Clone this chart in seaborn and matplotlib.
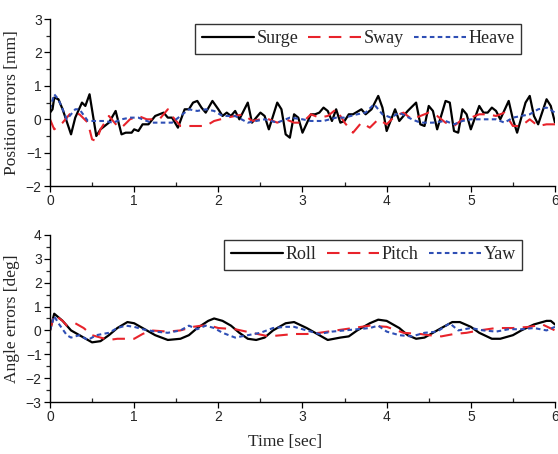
import numpy as np
import pandas as pd
import matplotlib
matplotlib.use("Agg")
import matplotlib.pyplot as plt
import seaborn as sns
from matplotlib.ticker import MultipleLocator

# ---------------- data ----------------
surge_t = [0, 0.03, 0.05, 0.1, 0.15, 0.25, 0.3, 0.38, 0.42, 0.47, 0.55, 0.6, 0.7, 0.78, 0.85, 0.9, 0.97,
           1.0, 1.05, 1.1, 1.17, 1.25, 1.35, 1.4, 1.45, 1.52, 1.6, 1.65, 1.7, 1.75, 1.8, 1.85, 1.93,
           2.0, 2.05, 2.1, 2.15, 2.2, 2.25, 2.35, 2.4, 2.5, 2.55, 2.6, 2.7, 2.75, 2.8, 2.85, 2.9, 2.95,
           3.0, 3.1, 3.15, 3.2, 3.25, 3.3, 3.35, 3.4, 3.45, 3.5, 3.55, 3.6, 3.7, 3.75, 3.82, 3.9, 3.95,
           4.0, 4.1, 4.15, 4.25, 4.35, 4.4, 4.45, 4.5, 4.55, 4.6, 4.7, 4.75, 4.8, 4.85, 4.9, 4.95,
           5.0, 5.1, 5.15, 5.2, 5.25, 5.3, 5.35, 5.45, 5.5, 5.55, 5.65, 5.7, 5.75, 5.8, 5.9, 5.95, 6.0]
surge_v = [0.2, 0.3, 0.65, 0.6, 0.3, -0.45, 0.05, 0.5, 0.4, 0.75, -0.5, -0.3, -0.1, 0.25, -0.45, -0.4, -0.4,
           -0.3, -0.35, -0.15, -0.15, 0.1, 0.2, 0.05, 0.05, -0.25, 0.3, 0.3, 0.5, 0.55, 0.35, 0.2, 0.55,
           0.3, 0.1, 0.2, 0.1, 0.25, 0.0, 0.5, -0.1, 0.2, 0.1, -0.3, 0.5, 0.3, -0.45, -0.55, 0.15, 0.05,
           -0.4, 0.15, 0.15, 0.2, 0.35, 0.25, -0.05, 0.3, -0.1, -0.05, 0.15, 0.15, 0.3, 0.15, 0.3, 0.7, 0.35,
           -0.35, 0.3, -0.05, 0.25, 0.5, -0.15, -0.2, 0.4, 0.25, -0.3, 0.55, 0.5, -0.35, -0.4, 0.3, 0.15,
           -0.3, 0.4, 0.2, 0.2, 0.35, 0.25, 0.0, 0.55, 0.0, -0.4, 0.5, 0.7, 0.1, -0.15, 0.6, 0.4, -0.1]

sway_t = [0, 0.05, 0.15, 0.25, 0.35, 0.45, 0.5, 0.55, 0.6, 0.7, 0.8, 0.85, 0.95, 1.05, 1.15, 1.3, 1.4, 1.45,
          1.55, 1.7, 1.85, 1.95, 2.1, 2.3, 2.4, 2.5, 2.6, 2.7, 2.8, 2.9, 3.0, 3.1, 3.2, 3.3, 3.4, 3.5, 3.6,
          3.7, 3.8, 3.9, 4.0, 4.1, 4.2, 4.3, 4.4, 4.5, 4.6, 4.7, 4.8, 4.9, 5.0, 5.1, 5.2, 5.3, 5.4, 5.5,
          5.6, 5.7, 5.8, 5.9, 6.0]
sway_v = [0.0, -0.3, -0.1, 0.2, 0.15, -0.1, -0.6, -0.65, -0.3, 0.1, -0.2, -0.25, 0.0, 0.1, 0.0, 0.0, 0.3, 0.1,
          -0.2, -0.2, -0.2, -0.05, 0.05, 0.15, -0.05, 0.0, 0.0, -0.1, 0.0, -0.1, -0.1, 0.15, 0.05, 0.1, 0.3, -0.1, -0.4,
          -0.1, -0.25, 0.0, -0.15, 0.1, 0.2, 0.0, 0.1, 0.2, 0.1, -0.1, -0.2, 0.0, 0.05, 0.15, 0.15, 0.1, 0.2, -0.2,
          -0.2, 0.0, -0.2, -0.15, -0.15]

heave_t = [0, 0.05, 0.1, 0.2, 0.3, 0.35, 0.45, 0.55, 0.65, 0.75, 0.85, 0.95, 1.05, 1.1, 1.2, 1.3, 1.45, 1.55,
           1.65, 1.75, 1.85, 1.95, 2.05, 2.2, 2.35, 2.45, 2.55, 2.7, 2.85, 3.0, 3.1, 3.25, 3.4, 3.5, 3.65, 3.75,
           3.85, 3.95, 4.05, 4.15, 4.3, 4.4, 4.55, 4.7, 4.8, 4.9, 5.0, 5.1, 5.2, 5.3, 5.4, 5.5, 5.6, 5.7, 5.8,
           5.9, 6.0]
heave_v = [0.3, 0.75, 0.6, 0.0, 0.3, 0.3, -0.05, -0.05, -0.05, -0.1, 0.0, 0.05, 0.05, 0.0, -0.1, -0.1, -0.1, 0.1,
           0.3, 0.25, 0.3, 0.25, 0.1, 0.1, -0.1, -0.05, 0.0, -0.1, 0.05, 0.0, -0.05, -0.05, 0.05, 0.05, 0.15, 0.2,
           0.45, 0.15, 0.05, 0.2, 0.0, -0.1, -0.1, -0.05, -0.15, -0.05, 0.0, 0.0, 0.0, 0.0, -0.1, 0.05, 0.1, 0.15, 0.3,
           0.35, 0.2]

roll_t = [0, 0.05, 0.15, 0.25, 0.4, 0.5, 0.6, 0.7, 0.8, 0.92, 1.0, 1.1, 1.25, 1.4, 1.55, 1.65, 1.75, 1.88, 1.95,
          2.05, 2.15, 2.25, 2.35, 2.45, 2.55, 2.65, 2.8, 2.9, 3.05, 3.2, 3.3, 3.45, 3.55, 3.65, 3.8, 3.9, 4.0,
          4.15, 4.25, 4.35, 4.45, 4.55, 4.65, 4.78, 4.87, 5.0, 5.1, 5.25, 5.35, 5.5, 5.6, 5.75, 5.9, 5.95, 6.0]
roll_v = [0.0, 0.7, 0.4, 0.0, -0.3, -0.5, -0.45, -0.2, 0.1, 0.35, 0.3, 0.1, -0.2, -0.4, -0.35, -0.2, 0.1, 0.4, 0.5,
          0.4, 0.2, -0.1, -0.35, -0.4, -0.3, 0.0, 0.3, 0.35, 0.1, -0.2, -0.4, -0.3, -0.25, 0.0, 0.3, 0.45, 0.4,
          0.1, -0.2, -0.35, -0.3, -0.1, 0.1, 0.35, 0.35, 0.15, -0.1, -0.35, -0.35, -0.2, 0.0, 0.25, 0.4, 0.4, 0.25]

pitch_t = [0, 0.05, 0.15, 0.2, 0.3, 0.4, 0.5, 0.6, 0.7, 0.8, 0.9, 1.0, 1.1, 1.2, 1.4, 1.55, 1.7, 1.8, 1.9, 2.0,
           2.2, 2.4, 2.6, 2.75, 2.9, 3.05, 3.2, 3.4, 3.6, 3.8, 4.0, 4.2, 4.4, 4.5, 4.65, 4.8, 4.95, 5.1, 5.3,
           5.5, 5.7, 5.85, 6.0]
pitch_v = [0.0, 0.65, 0.4, 0.2, 0.3, 0.1, -0.2, -0.3, -0.4, -0.35, -0.35, -0.35, -0.15, 0.0, -0.05, 0.0, 0.15, 0.2,
           0.2, 0.1, 0.05, -0.1, -0.25, -0.2, -0.15, -0.15, -0.1, 0.0, 0.1, 0.2, 0.15, -0.1, -0.15, -0.2, -0.25, -0.15,
           -0.1, 0.0, 0.1, 0.1, 0.15, 0.25, 0.0]

yaw_t = [0, 0.05, 0.1, 0.2, 0.25, 0.35, 0.45, 0.55, 0.7, 0.8, 0.9, 1.0, 1.1, 1.25, 1.4, 1.55, 1.65, 1.75, 1.85,
         1.95, 2.05, 2.2, 2.35, 2.5, 2.65, 2.8, 2.9, 3.05, 3.2, 3.35, 3.5, 3.65, 3.8, 3.9, 4.0, 4.15, 4.3, 4.45,
         4.6, 4.75, 4.85, 5.0, 5.15, 5.3, 5.45, 5.6, 5.75, 5.9, 6.0]
yaw_v = [0.0, 0.6, 0.3, -0.2, -0.3, -0.2, -0.4, -0.2, -0.1, 0.1, 0.2, 0.15, 0.05, -0.05, -0.1, 0.0, 0.2, 0.05, 0.2,
         0.1, -0.1, -0.3, -0.2, -0.1, 0.1, 0.15, 0.15, 0.0, -0.15, -0.05, 0.0, 0.05, 0.1, 0.2, -0.05, -0.2, -0.25, -0.1,
         -0.05, 0.3, 0.0, 0.1, 0.0, -0.05, 0.05, 0.05, 0.1, 0.0, 0.15]

pos_names = ["Surge", "Sway", "Heave"]
ang_names = ["Roll", "Pitch", "Yaw"]
xlabel = "Time [sec]"
ylabel_top = "Position errors [mm]"
ylabel_bot = "Angle errors [deg]"

# ---------------- style ----------------
sns.set_style("ticks")
plt.rcParams["font.family"] = ["Liberation Sans", "DejaVu Sans"]
SERIF = ["Liberation Serif", "DejaVu Serif"]

colors = ["black", "#e8232b", "#2f4fb5"]
styles = ["-", (0, (6, 4)), (0, (2.2, 1.6))]

fig = plt.figure(figsize=(5.58, 4.54), dpi=100)
ax1 = fig.add_axes([0.0896, 0.590, 0.905, 0.368])
ax2 = fig.add_axes([0.0896, 0.1145, 0.905, 0.368])


def draw(ax, series, names, ylim, ylabel, legend_bbox, colsp):
    for (t, v), name, c, ls in zip(series, names, colors, styles):
        df = pd.DataFrame({"t": t, "v": v})
        sns.lineplot(data=df, x="t", y="v", ax=ax, color=c, lw=1.6 if ls == "-" else 1.5,
                     linestyle=ls, label=name, estimator=None, sort=False)
    ax.set_xlim(0, 6)
    ax.set_ylim(*ylim)
    ax.xaxis.set_major_locator(MultipleLocator(1))
    ax.xaxis.set_minor_locator(MultipleLocator(0.5))
    ax.yaxis.set_major_locator(MultipleLocator(1))
    ax.yaxis.set_minor_locator(MultipleLocator(0.5))
    ax.tick_params(axis="both", which="major", length=4, width=0.9, direction="out",
                   labelsize=10, color="black", pad=2)
    ax.tick_params(axis="x", which="minor", length=3, width=0.9, direction="in")
    ax.tick_params(axis="y", which="minor", length=3, width=0.9, direction="out")
    for s in ["left", "bottom"]:
        ax.spines[s].set_linewidth(1.0)
        ax.spines[s].set_color("black")
    sns.despine(ax=ax)
    ax.set_ylabel(ylabel, family=SERIF, fontsize=12.5, labelpad=4)
    leg = ax.legend(loc="upper right", bbox_to_anchor=legend_bbox, borderaxespad=0, ncol=3, frameon=True,
                    fancybox=False, edgecolor="black", handlelength=2.9, handletextpad=0.15,
                    columnspacing=colsp, borderpad=0.35, prop={"family": SERIF, "size": 13})
    leg.get_frame().set_linewidth(1.0)


draw(ax1, [(surge_t, surge_v), (sway_t, sway_v), (heave_t, heave_v)], pos_names,
     (-2, 3), ylabel_top, (0.933, 0.97), 0.55)
ax1.set_xlabel("")
draw(ax2, [(roll_t, roll_v), (pitch_t, pitch_v), (yaw_t, yaw_v)], ang_names,
     (-3, 4), ylabel_bot, (0.935, 0.97), 0.55)
ax2.set_xlabel(xlabel, family=SERIF, fontsize=12.5, labelpad=8)
ax2.xaxis.set_label_coords(0.465, -0.19)

fig.savefig("out.png", dpi=100)
